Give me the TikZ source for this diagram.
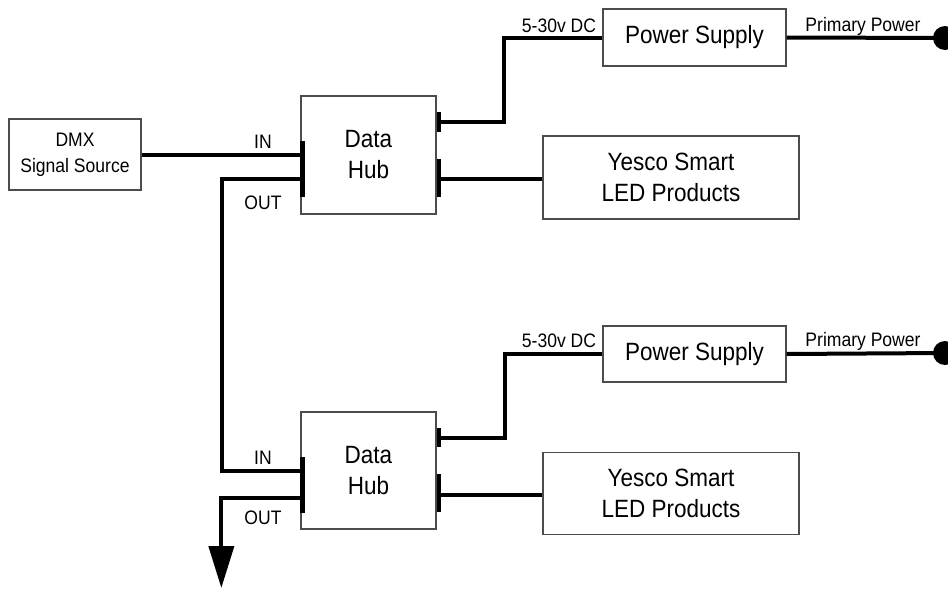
\documentclass[tikz,border=0pt]{standalone}
\usepackage{fontspec}
\setmainfont[FakeStretch=0.9]{Liberation Sans}
\usetikzlibrary{arrows.meta}
\tikzset{
  box/.style={draw=black!70, line width=1.3pt, fill=white, inner sep=0pt, align=center,
              font=\fontsize{25}{31}\selectfont},
  smallbox/.style={box, font=\fontsize{19.5}{26}\selectfont},
  conn/.style={line width=4pt, draw=black},
  lbl/.style={anchor=base, inner sep=0pt, font=\fontsize{19.5}{22}\selectfont},
  bar/.style={fill=black, draw=none},
  dot/.style={circle, fill=black, draw=none, minimum size=24pt, inner sep=0pt}
}
\begin{document}
\begin{tikzpicture}[x=1pt,y=-1pt]
\path[use as bounding box, fill=white] (0,0) rectangle (948,589);

% nodes
\node[smallbox, minimum width=132pt, minimum height=71pt] (dmx) at (75,154.5) {DMX\\Signal Source};
\node[box, minimum width=135pt, minimum height=118pt] (hub1) at (368.5,155) {Data\\Hub};
\node[box, minimum width=183pt, minimum height=57pt] (ps1) at (694.5,37.5) {Power Supply};
\node[box, minimum width=256pt, minimum height=83pt] (led1) at (671,177.5) {Yesco Smart\\LED Products};
\node[dot] (pp1) at (945,38) {};

\node[box, minimum width=135pt, minimum height=117pt] (hub2) at (368.5,470.5) {Data\\Hub};
\node[box, minimum width=183pt, minimum height=56pt] (ps2) at (694.5,354) {Power Supply};
\node[box, minimum width=256pt, minimum height=82pt] (led2) at (671,493.5) {Yesco Smart\\LED Products};
\node[dot] (pp2) at (945,353) {};

% connectors, section 1
\draw[conn] (dmx.east) -- (dmx.east -| hub1.west);
\draw[conn] ([yshift=-24pt]hub1.west) -- ++(-78,0) |- (hub2.west);
\draw[conn] ([yshift=33pt]hub1.east) -- ++(67,0) |- (ps1.west);
\draw[conn] ([yshift=-24pt]hub1.east) -- ([yshift=-24pt]hub1.east -| led1.west);
\draw[conn] (ps1.east) -- (pp1.center);

% connectors, section 2
\draw[conn, -{Triangle[width=25pt,length=42pt]}] ([yshift=-27.5pt]hub2.west) -- ++(-79,0) -- ++(0,90);
\draw[conn] ([yshift=32.5pt]hub2.east) -- ++(68,0) |- (ps2.west);
\draw[conn] ([yshift=-24.5pt]hub2.east) -- ([yshift=-24.5pt]hub2.east -| led2.west);
\draw[conn] (ps2.east) -- (pp2.center);

% connector bars on hubs
\fill[bar] ([yshift=14pt]hub1.west) rectangle ([xshift=5pt,yshift=-42pt]hub1.west);
\fill[bar] ([yshift=43pt]hub1.east) rectangle ([xshift=4pt,yshift=23pt]hub1.east);
\fill[bar] ([yshift=-4pt]hub1.east) rectangle ([xshift=4pt,yshift=-42pt]hub1.east);
\fill[bar] ([yshift=13.5pt]hub2.west) rectangle ([xshift=5pt,yshift=-42.5pt]hub2.west);
\fill[bar] ([yshift=42.5pt]hub2.east) rectangle ([xshift=4pt,yshift=23.5pt]hub2.east);
\fill[bar] ([yshift=-3.5pt]hub2.east) rectangle ([xshift=4pt,yshift=-41.5pt]hub2.east);

% labels
\node[lbl] (in1) at (263,148) {IN};
\node[lbl] (out1) at (263,209) {OUT};
\node[lbl] (in2) at (263,464) {IN};
\node[lbl] (out2) at (263,524) {OUT};
\node[lbl] (dc1) at (559,32) {5-30v DC};
\node[lbl] (dc2) at (559,347) {5-30v DC};
\node[lbl] (pw1) at (863,31) {Primary Power};
\node[lbl] (pw2) at (863,346) {Primary Power};
\end{tikzpicture}
\end{document}
